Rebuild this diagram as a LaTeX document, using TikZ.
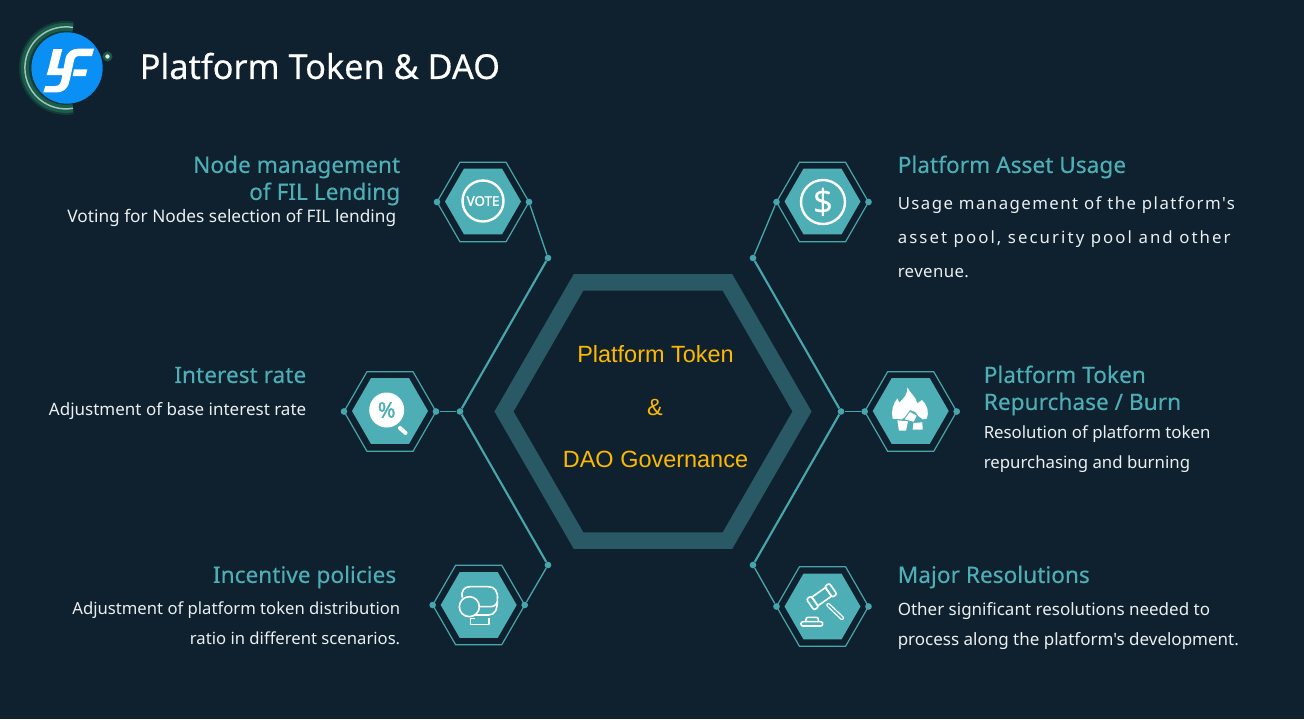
\documentclass[tikz,border=0pt]{standalone}
\usepackage{xcolor}
\usepackage{fontspec}
\setmainfont{Noto Sans}
\newfontfamily\hubfont{Liberation Sans}
\newfontfamily\plainfont{Noto Sans}
\newfontfamily\headfont[FakeBold=0.2]{Noto Sans}
\newfontfamily\titlefont[FakeBold=0.35]{Noto Sans}
\newfontfamily\iconfont[FakeBold=1.5]{Noto Sans}
\usetikzlibrary{shapes.geometric}
\definecolor{bgnavy}{HTML}{0F212E}
\definecolor{tealfill}{HTML}{4DAEB6}
\definecolor{tealline}{HTML}{47A5AD}
\definecolor{hubring}{HTML}{2A5966}
\definecolor{hubgold}{HTML}{FDB900}
\definecolor{logoblue}{HTML}{0A8FF5}
\definecolor{logoglow}{HTML}{1B6650}
\definecolor{bodytext}{HTML}{EAEFF2}

\begin{document}
\begin{tikzpicture}[
  x=0.75pt, y=-0.75pt,
  hexring/.style={regular polygon, regular polygon sides=6, inner sep=0pt,
    outer sep=0pt, minimum size=69pt, draw=tealline, line width=0.9pt},
  hexfill/.style={regular polygon, regular polygon sides=6, inner sep=0pt,
    outer sep=0pt, minimum size=57pt, fill=tealfill},
  joint/.style={circle, fill=tealline, inner sep=0pt, minimum size=5pt},
  hubline/.style={draw=tealline, line width=1.6pt},
  link/.style={draw=tealline, line width=1pt},
  head/.style={text=tealfill, inner sep=0pt, font=\headfont\fontsize{17}{20.25}\selectfont},
  body/.style={text=bodytext, inner sep=0pt, font=\plainfont\fontsize{12.6}{22.5}\selectfont},
  hubtext/.style={text=hubgold, inner sep=0pt, font=\hubfont\fontsize{17.6}{20}\selectfont},
  icon/.style={draw=white, line width=1.2pt, line join=round},
  zoomed/.style n args={2}{shift={(#1,#2)}, x=0.25pt, y=-0.25pt}
]
\fill[bgnavy] (0,0) rectangle (1304,719);
\useasboundingbox (0,0) rectangle (1304,719);

% logo
\draw[logoglow, line width=9pt, opacity=0.35] (73,27.5) arc[start angle=-80, end angle=-280, radius=41];
\draw[logoglow, line width=6pt, opacity=0.8] (73,27.5) arc[start angle=-80, end angle=-280, radius=41];
\draw[white!60!logoglow, line width=1.1pt] (73,27.5) arc[start angle=-80, end angle=-280, radius=41];
\node[circle, fill=logoblue, inner sep=0pt, minimum size=53.5pt] (logo) at (67,68) {};
\begin{scope}[zoomed={0}{0}]
\fill[white] (160,147) -- (187,147) -- (172,205) -- (205,205) -- (200,225) -- (140,225) -- (146,205) -- cycle;
\fill[white] (282,146) -- (276,168) -- (240,168) .. controls (228,168) and (224,172) .. (222,182)
  -- (208,245) .. controls (202,268) and (190,277) .. (168,277) -- (130,277) -- (136,258) -- (165,258)
  .. controls (177,258) and (181,252) .. (184,240) -- (196,178) .. controls (200,156) and (215,146) .. (238,146) -- cycle;
\fill[white] (222,208) -- (262,208) -- (257,228) -- (218,228) -- cycle;
\end{scope}
\fill[logoglow, opacity=0.8] (107.5,56.5) circle[radius=5];
\fill[white!85!logoglow] (107.5,56.5) circle[radius=2.2];
\node[anchor=west, inner sep=0pt, text=white, font=\titlefont\fontsize{25.7}{30}\selectfont] (title) at (139.5,66) {Platform Token \& DAO};

% centre hexagon
\node[regular polygon, regular polygon sides=6, inner sep=0pt, outer sep=0pt,
  minimum size=223.5pt, draw=hubring, line width=12.4pt] (hub) at (653,411.5) {};
\node[hubtext] (hubtop) at (655.5,354) {Platform Token};
\node[hubtext] (hubamp) at (655,407) {\&};
\node[hubtext] (hubbot) at (655.5,459) {DAO Governance};

\node[joint] (nw) at (548,258) {};
\node[joint] (w) at (460,411.5) {};
\node[joint] (sw) at (548,565) {};
\node[joint] (ne) at (753,258) {};
\node[joint] (e) at (841,411.5) {};
\node[joint] (se) at (753,565) {};
\draw[hubline] (nw) -- (w);
\draw[hubline] (w) -- (sw);
\draw[hubline] (ne) -- (e);
\draw[hubline] (e) -- (se);

% badges
\node[hexring] (votering) at (483,202) {};
\node[hexfill] (vote) at (483,201.5) {};
\node[joint] (votew) at (votering.west) {};
\node[joint] (votee) at (votering.east) {};
\node[hexring] (usering) at (822.5,202) {};
\node[hexfill] (use) at (822.5,201.5) {};
\node[joint] (usew) at (usering.west) {};
\node[joint] (usee) at (usering.east) {};
\node[hexring] (ratering) at (390,411.5) {};
\node[hexfill] (rate) at (390,411) {};
\node[joint] (ratew) at (ratering.west) {};
\node[joint] (ratee) at (ratering.east) {};
\node[hexring] (burnring) at (910.7,411.5) {};
\node[hexfill] (burn) at (910.7,411) {};
\node[joint] (burnw) at (burnring.west) {};
\node[joint] (burne) at (burnring.east) {};
\node[hexring] (gifting) at (478.7,605) {};
\node[hexfill] (gift) at (478.7,605) {};
\node[joint] (giftw) at (gifting.west) {};
\node[joint] (gifte) at (gifting.east) {};
\node[hexring] (lawring) at (822.5,606.5) {};
\node[hexfill] (law) at (822.5,606.5) {};
\node[joint] (laww) at (lawring.west) {};
\node[joint] (lawe) at (lawring.east) {};

\draw[link] (votee) -- (nw);
\draw[link] (usew) -- (ne);
\draw[link] (ratee) -- (w);
\draw[link] (burnw) -- (e);
\draw[link] (gifte) -- (sw);
\draw[link] (laww) -- (se);

% vote icon
\draw[white, line width=1.8pt] (483,201) circle[radius=20.5];
\node[text=white, inner sep=0pt, font=\iconfont\fontsize{10}{12}\selectfont] (votetext) at (483,201) {VOTE};
% dollar icon
\draw[white, line width=1.8pt] (823,202) circle[radius=22];
\node[text=white, inner sep=0pt, font=\fontsize{26}{28}\selectfont] (dollar) at (823,202) {\$};
% percent icon
\fill[white] (386.7,410) circle[radius=17.5];
\node[text=tealfill, inner sep=0pt, font=\iconfont\fontsize{16}{18}\selectfont] (percent) at (386.7,410) {\%};
\draw[white, line width=3pt, line cap=round] (400,428) -- (405.5,433);
% flame icon
\begin{scope}[zoomed={830}{360}]
\fill[white] (232,82) .. controls (240,100) and (258,110) .. (262,130) -- (276,120)
  .. controls (292,135) and (298,155) .. (290,176) -- (278,178) -- (265,168) -- (256,156) -- (240,150)
  -- (224,172) -- (215,178) -- (188,176) .. controls (182,155) and (190,130) .. (202,115)
  -- (208,128) .. controls (222,115) and (234,100) .. (232,82) -- cycle;
\fill[white] (240,156) -- (260,167) -- (251,185) -- (224,178) -- cycle;
\fill[white] (202,181) -- (234,184) -- (228,212) -- (207,212) -- cycle;
\fill[white] (250,189) -- (277,187) -- (278,209) -- (248,209) -- cycle;
\end{scope}
% glove icon
\begin{scope}[zoomed={420}{555}]
\draw[icon] (127,128) .. controls (122,105) and (135,95) .. (150,95) -- (205,95)
  .. controls (225,95) and (235,110) .. (232,135) .. controls (232,165) and (225,180) .. (205,180) -- (165,180);
\draw[icon] (148,155) circle[radius=30];
\draw[icon] (176,155) -- (210,155) .. controls (222,155) and (230,150) .. (232,140);
\draw[icon] (165,190) -- (152,190) -- (152,208) -- (207,208) -- (207,190);
\end{scope}
% gavel icon
\begin{scope}[zoomed={745}{555}]
\draw[icon] (259.5,123.7) -- (241.5,97.7) -- (200.5,126.3) -- (218.5,152.3) -- cycle;
\draw[icon, rounded corners=1.5pt] (261.9,127.1) -- (275.8,117.4) -- (253,84.6) -- (239.1,94.3) -- cycle;
\draw[icon, rounded corners=1.5pt] (220.9,155.7) -- (207,165.4) -- (184.2,132.6) -- (198.1,122.9) -- cycle;
\draw[white, line width=3.2pt, line cap=round] (250,150) -- (291,189);
\draw[tealfill, line width=1.2pt, line cap=round] (250,150) -- (291,189);
\draw[icon, rounded corners=1.5pt] (168,213) rectangle (233,200);
\draw[icon, rounded corners=1.5pt] (183,200) -- (183,187) -- (220,187) -- (220,200);
\end{scope}

% left texts
\node[head, anchor=east, align=right] (votehead) at (400.5,180.5) {Node management\\of FIL Lending};
\node[body, anchor=east, font=\plainfont\fontsize{12.95}{22.5}\selectfont] (votebody) at (396.5,218) {Voting for Nodes selection of FIL lending};
\node[head, anchor=east] (ratehead) at (306.5,375) {Interest rate};
\node[body, anchor=east, font=\plainfont\fontsize{12.75}{22.5}\selectfont] (ratebody) at (306.5,411) {Adjustment of base interest rate};
\node[head, anchor=east] (gifthead) at (396.5,577) {Incentive policies};
\node[body, anchor=east, align=right, font=\plainfont\fontsize{12.5}{22.5}\selectfont] (giftbody) at (400.5,623.5) {Adjustment of platform token distribution\\ratio in different scenarios.};

% right texts
\node[head, anchor=west] (usehead) at (897.5,167) {Platform Asset Usage};
\node[body, anchor=west, align=left, font=\plainfont\fontsize{12.6}{25.5}\selectfont] (usebody) at (897.5,237) {{\addfontfeature{LetterSpace=8.6}Usage management of the platform's}\\{\addfontfeature{LetterSpace=12.4}asset pool, security pool and other}\\{\addfontfeature{LetterSpace=2.2}revenue.}};
\node[head, anchor=west, align=left] (burnhead) at (983.5,390.5) {Platform Token\\Repurchase / Burn};
\node[body, anchor=west, align=left] (burnbody) at (983.5,449) {Resolution of platform token\\repurchasing and burning};
\node[head, anchor=west] (lawhead) at (897.5,577) {Major Resolutions};
\node[body, anchor=west, align=left, font=\plainfont\fontsize{12.75}{22.5}\selectfont] (lawbody) at (897.5,626) {Other significant resolutions needed to\\process along the platform's development.};
\end{tikzpicture}
\end{document}
